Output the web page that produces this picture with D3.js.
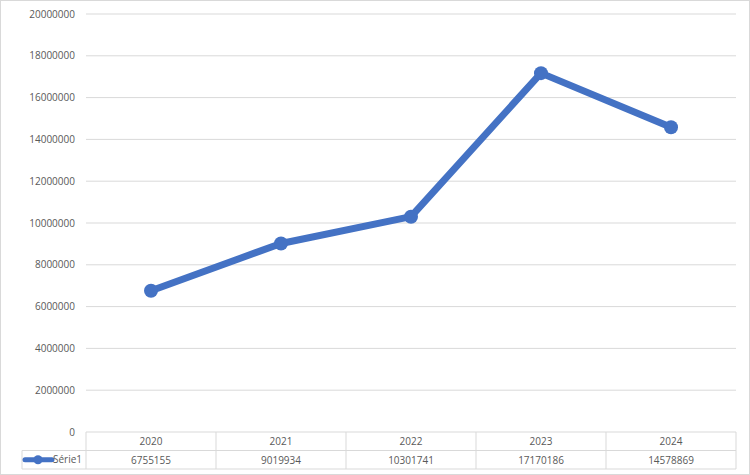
<!DOCTYPE html><html><head><meta charset="utf-8"><script src="https://cdn.jsdelivr.net/npm/d3@7"></script>
<style>body{margin:0;background:#fff}text{font-family:"Open Sans","Liberation Sans",sans-serif;font-size:10px;fill:#595959}</style></head><body>
<script>
const categories=["2020","2021","2022","2023","2024"];
const values=[6755155,9019934,10301741,17170186,14578869];
const yTicks=[0,2000000,4000000,6000000,8000000,10000000,12000000,14000000,16000000,18000000,20000000];
const seriesName="Série1";
const W=750,H=475,L=86,R=736,T=14,B=432,rowH=18.5;
const svg=d3.select("body").append("svg").attr("width",W).attr("height",H);
svg.append("rect").attr("x",0.5).attr("y",0.5).attr("width",W-1).attr("height",H-1).attr("fill","#fff").attr("stroke","#d9d9d9");
const x=d3.scaleBand().domain(categories).range([L,R]);
const y=d3.scaleLinear().domain([0,20000000]).range([B,T]);
const g=svg.append("g");
g.selectAll("line.grid").data(yTicks.filter(d=>d>0)).join("line").attr("x1",L).attr("x2",R).attr("y1",d=>y(d)).attr("y2",d=>y(d)).attr("stroke","#d9d9d9");
g.selectAll("text.yl").data(yTicks).join("text").attr("x",L-11).attr("y",d=>y(d)+3.5).attr("text-anchor","end").text(d=>d);
// table
const tc="#d9d9d9";
svg.append("line").attr("x1",L).attr("x2",R).attr("y1",B).attr("y2",B).attr("stroke",tc);
svg.append("line").attr("x1",22).attr("x2",R).attr("y1",B+rowH).attr("y2",B+rowH).attr("stroke",tc);
svg.append("line").attr("x1",22).attr("x2",R).attr("y1",B+2*rowH).attr("y2",B+2*rowH).attr("stroke",tc);
svg.append("line").attr("x1",22).attr("x2",22).attr("y1",B+rowH).attr("y2",B+2*rowH).attr("stroke",tc);
const edges=categories.map(c=>x(c)).concat([R]);
svg.selectAll("line.v").data(edges).join("line").attr("x1",d=>d).attr("x2",d=>d).attr("y1",B).attr("y2",B+2*rowH).attr("stroke",tc);
svg.selectAll("text.c").data(categories).join("text").attr("x",d=>x(d)+x.bandwidth()/2).attr("y",B+13).attr("text-anchor","middle").text(d=>d);
svg.selectAll("text.v").data(values).join("text").attr("x",(d,i)=>x(categories[i])+x.bandwidth()/2).attr("y",B+rowH+13).attr("text-anchor","middle").text(d=>d);
const ly=B+rowH*1.5;
svg.append("line").attr("x1",25).attr("x2",52).attr("y1",ly).attr("y2",ly).attr("stroke","#4472c4").attr("stroke-width",5).attr("stroke-linecap","round");
svg.append("circle").attr("cx",38).attr("cy",ly).attr("r",4.5).attr("fill","#4472c4");
svg.append("text").attr("x",53).attr("y",ly+3.5).text(seriesName);
// line
const cx=c=>x(c)+x.bandwidth()/2;
svg.append("path").datum(values).attr("fill","none").attr("stroke","#4472c4").attr("stroke-width",7).attr("stroke-linejoin","round")
 .attr("d",d3.line().x((d,i)=>cx(categories[i])).y(d=>y(d)));
svg.selectAll("circle.p").data(values).join("circle").attr("cx",(d,i)=>cx(categories[i])).attr("cy",d=>y(d)).attr("r",7).attr("fill","#4472c4");
</script></body></html>
